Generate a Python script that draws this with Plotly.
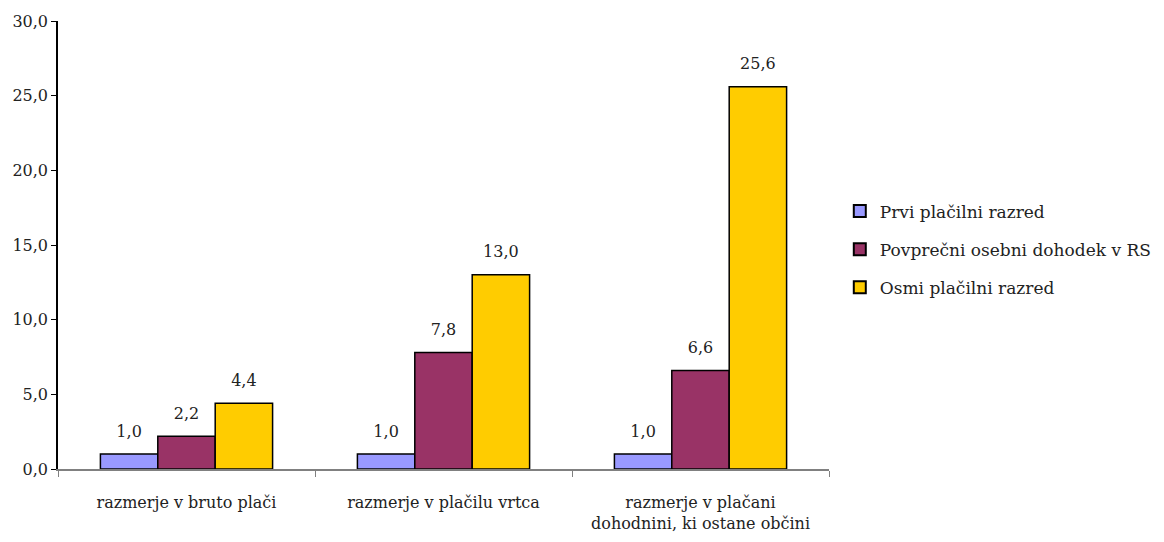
import plotly.graph_objects as go

# categories (x-axis) and series
categories = [
    "razmerje v bruto plači",
    "razmerje v plačilu vrtca",
    "razmerje v plačani<br>dohodnini, ki ostane občini",
]
series_names = [
    "Prvi plačilni razred",
    "Povprečni osebni dohodek v RS",
    "Osmi plačilni razred",
]
prvi = [1.0, 1.0, 1.0]
povprecni = [2.2, 7.8, 6.6]
osmi = [4.4, 13.0, 25.6]

colors = ["#9999FF", "#993366", "#FFCC00"]
FONT = "DejaVu Serif"
TXT = "#222"

fig = go.Figure()
for i, (name, vals, col) in enumerate(zip(series_names, [prvi, povprecni, osmi], colors)):
    fig.add_trace(go.Bar(
        x=categories, y=vals, name=name, legendgroup=f"g{i}",
        marker=dict(color=col, line=dict(color="black", width=1.5)),
    ))

# value labels: grouped text-only scatter, lifted by an invisible marker
for i, vals in enumerate([prvi, povprecni, osmi]):
    fig.add_trace(go.Scatter(
        x=categories, y=vals, mode="markers+text",
        marker=dict(size=20, opacity=0),
        text=[f"{v:.1f}".replace(".", ",") for v in vals],
        textposition="top center",
        textfont=dict(family=FONT, size=16, color=TXT),
        showlegend=False, hoverinfo="skip", cliponaxis=False,
    ))

# page body has an 8px margin, so margins are shifted by that
fig.update_layout(
    barmode="group",
    bargap=0.33,
    bargroupgap=0,
    scattermode="group",
    scattergap=0.33,
    separators=", ",
    width=1164, height=542,
    margin=dict(l=50, r=343, t=13, b=81),
    plot_bgcolor="white",
    paper_bgcolor="white",
    font=dict(family=FONT, size=16, color=TXT),
    legend=dict(
        x=1.014, y=0.49, xanchor="left", yanchor="middle",
        font=dict(family=FONT, size=17, color=TXT),
        tracegroupgap=13, itemsizing="constant",
    ),
    xaxis=dict(
        showline=True, linecolor="#808080", linewidth=1.5,
        ticks="outside", tickson="boundaries", ticklen=6, tickcolor="#808080",
        ticklabelstandoff=18, automargin=False,
        showgrid=False, tickfont=dict(family=FONT, size=16, color=TXT),
    ),
    yaxis=dict(
        range=[0, 30], dtick=5, tickformat=".1f",
        showline=True, linecolor="black", linewidth=1.5,
        ticks="outside", ticklen=5, tickcolor="black",
        showgrid=False, zeroline=False, automargin=False,
        tickfont=dict(family=FONT, size=16, color=TXT),
    ),
)

fig.write_html("out.html")
